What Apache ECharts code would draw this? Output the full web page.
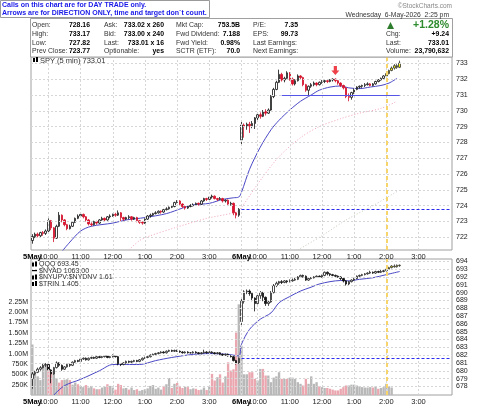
<!DOCTYPE html>
<html><head><meta charset="utf-8">
<script src="https://cdn.jsdelivr.net/npm/echarts@6/dist/echarts.min.js"></script>
<style>html,body{margin:0;padding:0;background:#fff}#c{width:480px;height:406px}</style>
</head><body><div id="c"></div>
<script>
// ---------------- DATA ----------------
const dayNames = ['5May', '6May'];
// SPY 5-min bars [open, close, low, high]
const spyBars = [
[721.80,722.05,721.60,722.20],[722.05,722.20,721.95,722.30],[722.20,722.10,722.00,722.30],[722.10,722.30,722.00,722.35],
[722.30,722.25,722.10,722.40],[722.25,722.40,722.15,722.50],[722.40,723.05,722.30,723.20],[723.05,722.60,722.45,723.10],
[722.60,721.95,721.70,722.65],[721.95,722.70,721.90,722.80],[722.70,723.40,722.65,723.60],[723.40,723.10,722.95,723.45],
[723.10,722.80,722.70,723.15],[722.80,722.55,722.45,722.85],[722.55,722.70,722.50,722.80],[722.70,722.95,722.65,723.00],
[722.95,723.20,722.90,723.25],[723.20,723.35,723.15,723.45],[723.35,723.45,723.25,723.55],[723.45,723.30,723.20,723.50],
[723.30,723.10,723.00,723.35],[723.10,722.85,722.75,723.15],[722.85,722.80,722.70,722.95],[722.80,723.00,722.75,723.05],
[723.00,722.90,722.80,723.05],[722.90,723.10,722.85,723.15],[723.10,723.20,723.05,723.30],[723.20,723.10,723.00,723.25],
[723.10,723.30,723.05,723.35],[723.30,723.35,723.20,723.45],[723.35,723.45,723.30,723.50],[723.45,723.40,723.30,723.55],
[723.40,723.55,723.35,723.70],[723.55,723.25,723.00,723.60],[723.25,723.15,723.05,723.30],[723.15,723.25,723.10,723.30],
[723.25,723.30,723.15,723.40],[723.30,723.15,723.05,723.35],[723.15,723.25,723.10,723.30],[723.25,723.05,722.95,723.30],
[723.05,722.95,722.85,723.10],[722.95,722.90,722.80,723.00],[722.90,723.15,722.85,723.20],[723.15,723.35,723.10,723.40],
[723.35,723.40,723.25,723.50],[723.40,723.50,723.35,723.55],[723.50,723.55,723.45,723.65],[723.55,723.65,723.50,723.70],
[723.65,723.60,723.50,723.70],[723.60,723.75,723.55,723.80],[723.75,723.80,723.70,723.90],[723.80,723.90,723.75,723.95],
[723.90,723.95,723.85,724.05],[723.95,724.20,723.90,724.25],[724.20,724.30,724.15,724.35],[724.30,724.10,724.00,724.35],
[724.10,723.95,723.85,724.15],[723.95,723.85,723.75,724.00],[723.85,723.95,723.80,724.00],[723.95,724.00,723.90,724.10],
[724.00,724.05,723.95,724.15],[724.05,724.15,724.00,724.20],[724.15,724.10,724.00,724.20],[724.10,724.30,724.05,724.35],
[724.30,724.45,724.25,724.50],[724.45,724.40,724.30,724.50],[724.40,724.55,724.35,724.60],[724.55,724.60,724.45,724.70],
[724.60,724.45,724.40,724.65],[724.45,724.40,724.30,724.50],[724.40,724.45,724.35,724.55],[724.45,724.30,724.20,724.50],
[724.30,724.35,724.20,724.40],[724.35,724.10,724.00,724.40],[724.10,724.15,724.00,724.25],[724.15,723.55,723.40,724.20],
[723.55,723.40,723.20,723.60],[723.40,723.77,723.30,723.85],
[728.16,729.10,727.82,729.30],[729.10,729.00,728.30,729.20],[729.00,729.15,728.80,729.25],[729.15,729.05,728.60,729.30],
[729.05,729.20,728.90,729.35],[729.20,729.55,728.85,729.60],[729.55,729.75,729.40,729.85],[729.75,729.65,729.50,729.90],
[729.65,729.95,729.60,730.05],[729.95,729.85,729.70,730.10],[729.85,730.05,729.80,730.15],[730.05,730.90,730.00,731.00],
[730.90,731.35,730.80,731.45],[731.35,731.80,731.30,731.90],[731.80,732.30,731.75,732.60],[732.30,731.95,731.85,732.40],
[731.95,732.05,731.80,732.15],[732.05,732.40,732.00,732.50],[732.40,732.00,731.90,732.45],[732.00,731.70,731.60,732.10],
[731.70,731.90,731.60,732.00],[731.90,732.20,731.85,732.30],[732.20,732.10,731.95,732.25],[732.10,731.65,731.55,732.15],
[731.65,731.30,731.20,731.70],[731.30,731.55,730.95,731.60],[731.55,731.65,731.45,731.75],[731.65,731.75,731.55,731.85],
[731.75,731.65,731.55,731.80],[731.65,731.80,731.60,731.85],[731.80,731.85,731.70,731.95],[731.85,731.90,731.75,731.95],
[731.90,731.85,731.75,732.00],[731.85,731.95,731.80,732.00],[731.95,732.00,731.85,732.05],[732.00,731.90,731.80,732.05],
[731.90,731.75,731.65,731.95],[731.75,731.60,731.50,731.80],[731.60,731.45,731.35,731.65],[731.45,730.90,730.80,731.50],
[730.90,730.85,730.60,731.10],[730.85,731.15,730.70,731.20],[731.15,731.35,731.05,731.40],[731.35,731.50,731.30,731.55],
[731.50,731.55,731.40,731.60],[731.55,731.60,731.45,731.65],[731.60,731.65,731.50,731.75],[731.65,731.70,731.60,731.80],
[731.70,731.60,731.55,731.75],[731.60,731.70,731.55,731.75],[731.70,731.85,731.65,731.90],[731.85,731.95,731.80,732.00],
[731.95,732.05,731.90,732.10],[732.05,732.20,732.00,732.25],[732.20,732.35,732.15,732.40],[732.35,732.55,732.30,732.60],
[732.55,732.70,732.50,732.80],[732.70,732.85,732.60,732.95],[732.85,732.75,732.65,732.95],[732.75,733.01,732.70,733.17]
];
// QQQ 5-min bars [open, close, low, high]
const qqqBars = [
[679.00,679.60,677.70,679.90],[679.60,679.80,679.40,680.00],[679.80,680.20,679.70,680.40],[680.20,680.40,680.00,680.60],
[680.40,680.70,680.30,680.90],[680.70,680.80,680.50,681.00],[680.80,680.10,679.90,680.90],[680.10,679.60,678.40,680.20],
[679.60,680.40,679.50,680.50],[680.40,681.00,680.30,681.20],[681.00,680.70,680.50,681.10],[680.70,680.20,680.00,680.80],
[680.20,680.50,680.10,680.60],[680.50,680.80,680.40,680.90],[680.80,680.70,680.50,680.90],[680.70,681.10,680.60,681.20],
[681.10,681.30,681.00,681.40],[681.30,681.20,681.10,681.40],[681.20,681.50,681.10,681.60],[681.50,681.60,681.40,681.70],
[681.60,681.40,681.30,681.70],[681.40,681.60,681.30,681.70],[681.60,681.70,681.50,681.80],[681.70,681.60,681.50,681.80],
[681.60,681.80,681.50,681.90],[681.80,681.70,681.60,681.90],[681.70,681.80,681.60,681.90],[681.80,681.90,681.70,682.00],
[681.90,681.70,681.60,681.95],[681.70,681.80,681.60,681.90],[681.80,681.90,681.70,682.10],[681.90,681.80,681.70,682.00],
[681.80,680.90,680.70,681.90],[680.90,680.80,680.60,681.00],[680.80,681.00,680.70,681.10],[681.00,681.20,680.90,681.30],
[681.20,681.10,681.00,681.30],[681.10,681.20,681.00,681.30],[681.20,681.30,681.10,681.40],[681.30,681.20,681.10,681.40],
[681.20,681.40,681.10,681.50],[681.40,681.60,681.30,681.70],[681.60,681.70,681.50,681.80],[681.70,681.80,681.60,681.90],
[681.80,682.00,681.70,682.10],[682.00,682.10,681.90,682.20],[682.10,682.20,682.00,682.30],[682.20,682.30,682.10,682.40],
[682.30,682.40,682.20,682.50],[682.40,682.30,682.20,682.50],[682.30,682.50,682.20,682.60],[682.50,682.60,682.40,682.70],
[682.60,682.50,682.40,682.70],[682.50,682.60,682.40,682.70],[682.60,682.50,682.40,682.70],[682.50,682.40,682.30,682.60],
[682.40,682.30,682.20,682.50],[682.30,682.40,682.20,682.50],[682.40,682.30,682.20,682.50],[682.30,682.30,682.20,682.40],
[682.30,682.40,682.20,682.50],[682.40,682.30,682.20,682.50],[682.30,682.20,682.10,682.40],[682.20,682.30,682.10,682.40],
[682.30,682.40,682.20,682.70],[682.40,682.30,682.20,682.50],[682.30,682.40,682.20,682.50],[682.40,682.30,682.20,682.50],
[682.30,682.20,682.10,682.40],[682.20,682.30,682.10,682.40],[682.30,682.10,682.00,682.40],[682.10,682.00,681.90,682.20],
[682.00,682.10,681.90,682.20],[682.10,681.90,681.80,682.20],[681.90,681.80,681.70,682.00],[681.80,681.30,681.20,681.90],
[681.30,681.00,680.80,681.40],[681.00,681.57,680.90,681.70],
[686.30,688.90,685.60,689.30],[688.90,690.10,688.60,690.30],[690.10,690.20,689.80,690.40],[690.20,689.90,689.60,690.40],
[689.90,689.30,688.90,690.00],[689.30,688.60,687.60,689.40],[688.60,689.60,688.50,689.80],[689.60,690.00,689.20,690.20],
[690.00,689.40,688.90,690.10],[689.40,688.60,688.30,689.50],[688.60,688.80,688.30,689.00],[688.80,690.00,688.70,690.20],
[690.00,690.90,689.90,691.10],[690.90,691.20,690.70,691.40],[691.20,691.40,691.00,691.50],[691.40,691.30,691.10,691.60],
[691.30,691.50,691.20,691.60],[691.50,691.40,691.20,691.60],[691.40,691.50,691.30,691.70],[691.50,691.60,691.40,691.80],
[691.60,691.70,691.50,691.90],[691.70,692.00,691.60,692.10],[692.00,692.20,691.90,692.30],[692.20,692.10,691.90,692.30],
[692.10,691.60,691.50,692.20],[691.60,691.80,691.50,691.90],[691.80,691.90,691.70,692.00],[691.90,692.00,691.80,692.10],
[692.00,692.10,691.90,692.20],[692.10,692.00,691.90,692.20],[692.00,692.20,691.90,692.30],[692.20,692.60,692.10,692.70],
[692.60,692.40,692.20,692.70],[692.40,692.30,692.10,692.50],[692.30,692.20,692.10,692.40],[692.20,692.10,692.00,692.30],
[692.10,692.00,691.90,692.20],[692.00,691.80,691.60,692.10],[691.80,691.50,691.30,691.90],[691.50,691.10,690.90,691.60],
[691.10,691.40,690.90,691.50],[691.40,691.60,691.30,691.70],[691.60,691.80,691.50,691.90],[691.80,692.10,691.70,692.20],
[692.10,692.20,692.00,692.30],[692.20,692.30,692.10,692.40],[692.30,692.40,692.20,692.50],[692.40,692.50,692.30,692.60],
[692.50,692.60,692.40,692.80],[692.60,692.50,692.40,692.70],[692.50,692.70,692.40,692.80],[692.70,692.60,692.50,692.80],
[692.60,692.70,692.50,692.90],[692.70,692.80,692.60,692.90],[692.80,693.00,692.70,693.10],[693.00,693.20,692.90,693.30],
[693.20,693.40,693.10,693.50],[693.40,693.30,693.20,693.60],[693.30,693.50,693.20,693.60],[693.50,693.45,693.30,693.60]
];
// QQQ volume, thousands of shares
const qqqVolumeK = [
1220,520,450,360,720,700,740,580,550,400,300,360,370,380,360,250,300,260,220,190,240,180,220,160,140,140,180,200,260,220,
180,130,270,240,160,170,130,180,120,140,100,120,140,160,220,240,150,180,130,220,260,410,170,270,290,220,170,200,190,140,
160,150,120,130,180,120,200,510,350,430,500,300,450,790,590,620,1510,2190,
1190,500,500,550,550,390,350,630,630,470,470,310,420,450,550,390,390,390,420,420,390,310,270,230,390,270,450,270,310,210,
190,170,170,150,130,110,110,150,190,230,230,250,250,230,210,190,180,180,190,180,210,150,170,190,270,210,180
];
// moving averages [barIndex, value]
const spyMaBlue = [[11,721.1],[14,721.7],[18,722.4],[22,722.7],[30,722.9],[35,723.1],[42,723.25],[50,723.5],[56,723.85],[60,724.05],[66,724.15],[71,724.4],[75,724.5],[77,724.55],[78,724.85],[81,726.3],[85,727.7],[89,728.8],[92,729.4],[96,730.05],[100,730.6],[104,731.0],[107,731.3],[111,731.5],[115,731.57],[118,731.45],[122,731.4],[126,731.5],[130,731.6],[133,731.75],[136,732.05]];
const spyMaPink = [[36,721.2],[40,721.8],[44,722.1],[53,722.6],[65,723.2],[76,723.6],[78,723.9],[85,725.6],[92,727.1],[100,728.3],[107,729.0],[115,729.5],[122,729.85],[130,730.15],[136,730.6]];
const spyMaGray = [[99,721.2],[108,722.1],[117,723.1],[127,724.0],[136,724.9]];
const qqqMaBlue = [[8,676.9],[12,678.1],[18,678.9],[25,680.0],[30,680.8],[35,680.8],[40,680.8],[46,681.3],[52,681.7],[60,682.1],[66,682.2],[73,682.1],[77,681.9],[78,683.4],[81,685.3],[85,686.6],[89,687.4],[92,688.7],[96,689.5],[100,690.2],[104,690.7],[107,691.1],[111,691.4],[115,691.55],[118,691.5],[122,691.7],[127,691.9],[132,692.3],[137,692.7]];
// tick labels
const spyTicks = [722,723,724,725,726,727,728,729,730,731,732,733];
const qqqTicks = [678,679,680,681,682,683,684,685,686,687,688,689,690,691,692,693,694];
// annotations
const spyPrevClose = 723.77;
const qqqPrevClose = 681.57;
const supportLevel = 731.0;
const supportSpan = [93, 137];
const prevCloseSpan = [78, 156];
const arrowPoints = [[113, 732.55]];
const signalIndex = 132;
// header texts
const calloutLines = ['Calls on this chart are for DAY TRADE only.', 'Arrows are for DIRECTION ONLY, time and target don`t count.'];
const quoteCol1 = [['Open:','728.16'],['High:','733.17'],['Low:','727.82'],['Prev Close:','723.77']];
const quoteCol2 = [['Ask:','733.02 x 260'],['Bid:','733.00 x 240'],['Last:','733.01 x 16'],['Optionable:','yes']];
const quoteCol3 = [['Mkt Cap:','753.5B'],['Fwd Dividend:','7.188'],['Fwd Yield:','0.98%'],['SCTR (ETF):','70.0']];
const quoteCol4 = [['P/E:','7.35'],['EPS:','99.73'],['Last Earnings:',''],['Next Earnings:','']];
const quoteCol5 = [['',''],['Chg:','+9.24'],['Last:','733.01'],['Volume:','23,790,632']];
const changePct = '+1.28%';
const dateStamp = 'Wednesday  6-May-2026  2:25 pm';
const siteMark = '\u00a9StockCharts.com';
const topLegend = 'SPY (5 min) 733.01';
const bottomLegend = ['QQQ 693.45', '$NYAD 1063.00', '$NYUPV:$NYDNV 1.61', '$TRIN 1.405'];

// ---------------- BUILD ----------------
const FONT = '"Liberation Sans", Arial, sans-serif';
const categories = [];
dayNames.forEach(d => {
  for (let k = 0; k < 78; k++) {
    const t = 570 + 5 * k, h = Math.floor(t / 60), m = t % 60;
    categories.push(d + ' ' + (h > 12 ? h - 12 : h) + ':' + (m < 10 ? '0' : '') + m);
  }
});
categories.push('6May 4:00');
const timeOf = v => v.split(' ')[1];
const showHour = (i, v) => { const t = timeOf(v); return t.endsWith(':00') && t !== '4:00'; };
const showDay = (i, v) => timeOf(v) === '9:30';
const vGrid = [];
categories.forEach((v, i) => { const t = timeOf(v); if ((t.endsWith(':00') && t !== '4:00') || (t === '9:30' && i > 0)) vGrid.push({ xAxis: i }); });

const yellowStyle = { color: '#ffff10', color0: '#ffff10', borderColor: '#333', borderColor0: '#333' };
const hl = arr => arr.map((b, i) => i >= signalIndex ? { value: b, itemStyle: yellowStyle } : b);
const volData = qqqVolumeK.map((v, i) => {
  const prev = i === 0 ? qqqBars[0][0] : qqqBars[i - 1][1];
  return { value: v, itemStyle: { color: qqqBars[i][1] < prev ? '#eaa7b0' : '#b8b8b8' } };
});

const gridLine = { color: '#d6d6d6', type: [2, 2], width: 1 };
const mlBase = { silent: true, symbol: 'none', label: { show: false }, animation: false };

function xAxisFor(g, kind) {
  const isDay = kind === 'day';
  return {
    type: 'category', gridIndex: g, data: categories, boundaryGap: true, position: 'bottom', offset: 0,
    axisLine: { show: false }, axisTick: { show: false }, splitLine: { show: false },
    axisLabel: {
      interval: isDay ? showDay : showHour,
      formatter: isDay ? (v => v.split(' ')[0]) : (v => timeOf(v)),
      fontSize: 7.5, fontFamily: FONT, color: isDay ? '#000' : '#222', fontWeight: isDay ? 'bold' : 'normal', margin: 3,
      showMinLabel: true, showMaxLabel: true
    }
  };
}

const option = {
  animation: false,
  backgroundColor: '#fff',
  grid: [
    { left: 31, right: 28, top: 57, height: 193, show: true, borderColor: '#a0a0a0', borderWidth: 1, backgroundColor: 'transparent' },
    { left: 31, right: 28, top: 259, height: 137, show: true, borderColor: '#a0a0a0', borderWidth: 1, backgroundColor: 'transparent' }
  ],
  xAxis: [xAxisFor(0, 'hour'), xAxisFor(1, 'hour'), xAxisFor(0, 'day'), xAxisFor(1, 'day')],
  yAxis: [
    { type: 'value', gridIndex: 0, position: 'right', min: 721.2, max: 733.4, scale: true,
      axisLine: { show: false }, axisTick: { show: false }, splitLine: { show: false },
      axisLabel: { customValues: spyTicks, fontSize: 7, fontFamily: FONT, color: '#222', margin: 4 } },
    { type: 'value', gridIndex: 1, position: 'right', min: 676.9, max: 694.3, scale: true,
      axisLine: { show: false }, axisTick: { show: false }, splitLine: { show: false },
      axisLabel: { customValues: qqqTicks, fontSize: 7, fontFamily: FONT, color: '#222', margin: 4 } },
    { type: 'value', gridIndex: 1, position: 'left', min: 0, max: 3285, interval: 250,
      axisLine: { show: false }, axisTick: { show: false }, splitLine: { show: false },
      axisLabel: { fontSize: 7, fontFamily: FONT, color: '#222', margin: 3, showMaxLabel: false,
        formatter: v => (v <= 0 || v > 2250) ? '' : (v < 1000 ? v + 'K' : (v / 1000).toFixed(2) + 'M') } }
  ],
  series: [
    { type: 'line', xAxisIndex: 0, yAxisIndex: 0, data: [], z: 0,
      markLine: Object.assign({}, mlBase, { lineStyle: gridLine, data: spyTicks.map(v => ({ yAxis: v })).concat(vGrid) }) },
    { type: 'line', xAxisIndex: 1, yAxisIndex: 1, data: [], z: 0,
      markLine: Object.assign({}, mlBase, { lineStyle: gridLine, data: qqqTicks.map(v => ({ yAxis: v })).concat(vGrid) }) },
    { type: 'line', xAxisIndex: 0, yAxisIndex: 0, data: [], z: 1,
      markLine: Object.assign({}, mlBase, { lineStyle: { color: '#f7d56a', type: [4, 3], width: 2 }, data: [{ xAxis: signalIndex }] }) },
    { type: 'line', xAxisIndex: 1, yAxisIndex: 1, data: [], z: 1,
      markLine: Object.assign({}, mlBase, { lineStyle: { color: '#f7d56a', type: [4, 3], width: 2 }, data: [{ xAxis: signalIndex }] }) },
    { type: 'bar', xAxisIndex: 1, yAxisIndex: 2, data: volData, barCategoryGap: '12%', z: 2, silent: true },
    { type: 'line', xAxisIndex: 0, yAxisIndex: 0, data: spyMaGray, showSymbol: false, smooth: 0.3, z: 3,
      lineStyle: { color: '#c5cbbd', width: 1, type: [1, 2] } },
    { type: 'line', xAxisIndex: 0, yAxisIndex: 0, data: spyMaPink, showSymbol: false, smooth: 0.3, z: 3,
      lineStyle: { color: '#eea2b4', width: 1, type: [1, 2] } },
    { type: 'line', xAxisIndex: 0, yAxisIndex: 0, data: spyMaBlue, showSymbol: false, smooth: 0.3, z: 3,
      lineStyle: { color: '#4a48c4', width: 1 } },
    { type: 'line', xAxisIndex: 1, yAxisIndex: 1, data: qqqMaBlue, showSymbol: false, smooth: 0.3, z: 3,
      lineStyle: { color: '#4a48c4', width: 1 } },
    { type: 'candlestick', xAxisIndex: 0, yAxisIndex: 0, data: hl(spyBars), barWidth: 2, z: 4,
      itemStyle: { color: '#ffffff', color0: '#e0102e', borderColor: '#111', borderColor0: '#d0102a', borderWidth: 0.8 } },
    { type: 'candlestick', xAxisIndex: 1, yAxisIndex: 1, data: hl(qqqBars), barWidth: 2, z: 4,
      itemStyle: { color: '#ffffff', color0: '#111', borderColor: '#222', borderColor0: '#111', borderWidth: 0.8 } },
    { type: 'line', xAxisIndex: 0, yAxisIndex: 0, data: [], z: 5,
      markLine: Object.assign({}, mlBase, { data: [
        [{ coord: [prevCloseSpan[0], spyPrevClose], lineStyle: { color: '#2a2af0', type: [3, 2], width: 1 } }, { coord: [prevCloseSpan[1], spyPrevClose] }],
        [{ coord: [supportSpan[0], supportLevel], lineStyle: { color: '#5555e8', type: 'solid', width: 1.2 } }, { coord: [supportSpan[1], supportLevel] }]
      ] }) },
    { type: 'line', xAxisIndex: 1, yAxisIndex: 1, data: [], z: 5,
      markLine: Object.assign({}, mlBase, { data: [
        [{ coord: [prevCloseSpan[0], qqqPrevClose], lineStyle: { color: '#2a2af0', type: [3, 2], width: 1 } }, { coord: [prevCloseSpan[1], qqqPrevClose] }]
      ] }) },
    { type: 'scatter', xAxisIndex: 0, yAxisIndex: 0, data: arrowPoints, z: 6, silent: true,
      symbol: 'path://M3,0 L7,0 L7,5 L10,5 L5,10 L0,5 L3,5 Z', symbolSize: [8, 9],
      itemStyle: { color: '#e8101a' } }
  ],
  graphic: []
};

// header graphics
const g = option.graphic;
const txt = (x, y, s, font, fill, align, sx) => g.push({ type: 'text', x: x, y: y, z: 100, silent: true, scaleX: sx || 1,
  style: { text: s, font: font, fill: fill || '#222', align: align || 'left', verticalAlign: 'middle' } });
g.push({ type: 'rect', z: 90, shape: { x: 30.5, y: 18.5, width: 422, height: 38.5 }, style: { fill: '#fff', stroke: '#a0a0a0', lineWidth: 1 } });
g.push({ type: 'rect', z: 95, shape: { x: 0.5, y: 0.5, width: 209, height: 17 }, style: { fill: '#fff', stroke: '#9a9a9a', lineWidth: 1 } });
txt(2, 5, calloutLines[0], 'bold 7px ' + FONT, '#1818e8', 'left', 1);
txt(2, 13, calloutLines[1], 'bold 7px ' + FONT, '#1818e8', 'left', 1);
const rowsY = [25, 33.7, 42.3, 51];
const LBL = '8px ' + FONT, VAL = 'bold 8px ' + FONT, SX = 0.86;
[[quoteCol1, 32, 90], [quoteCol2, 104, 164], [quoteCol3, 176, 240], [quoteCol4, 253, 298], [quoteCol5, 386, 449]].forEach(([col, lx, vx]) => {
  col.forEach((r, i) => { if (r[0]) txt(lx, rowsY[i], r[0], LBL, '#333', 'left', SX); if (r[1]) txt(vx, rowsY[i], r[1], VAL, '#000', 'right', SX); });
});
txt(449, 15, dateStamp, '7.5px ' + FONT, '#333', 'right', 0.9);
txt(452, 6, siteMark, '6.5px ' + FONT, '#888', 'right', 1);
txt(449, 25, changePct, 'bold 10.5px ' + FONT, '#2e8b2e', 'right', 1);
g.push({ type: 'polygon', z: 100, shape: { points: [[387, 29], [394, 29], [390.5, 22]] }, style: { fill: '#2e7d2e' } });
// panel legends
g.push({ type: 'rect', z: 100, shape: { x: 33, y: 58, width: 2, height: 4 }, style: { fill: '#000' } });
g.push({ type: 'rect', z: 100, shape: { x: 36, y: 57, width: 2, height: 5 }, style: { fill: '#000' } });
txt(40, 60.5, topLegend, '7.5px ' + FONT, '#333');
const legY = [264, 270.5, 277, 283.5];
bottomLegend.forEach((s, i) => {
  if (i === 1) g.push({ type: 'rect', z: 100, shape: { x: 32, y: legY[i] - 0.5, width: 5, height: 1.2 }, style: { fill: '#000' } });
  else {
    g.push({ type: 'rect', z: 100, shape: { x: 32, y: legY[i] - 1.5, width: 2, height: 4 }, style: { fill: '#000' } });
    g.push({ type: 'rect', z: 100, shape: { x: 35, y: legY[i] - 2.5, width: 2, height: 5 }, style: { fill: '#000' } });
  }
  txt(39, legY[i] + 0.5, s, '7px ' + FONT, '#333');
});

const chart = echarts.init(document.getElementById('c'), null, { renderer: 'canvas', width: 480, height: 406 });
chart.setOption(option);
</script></body></html>
